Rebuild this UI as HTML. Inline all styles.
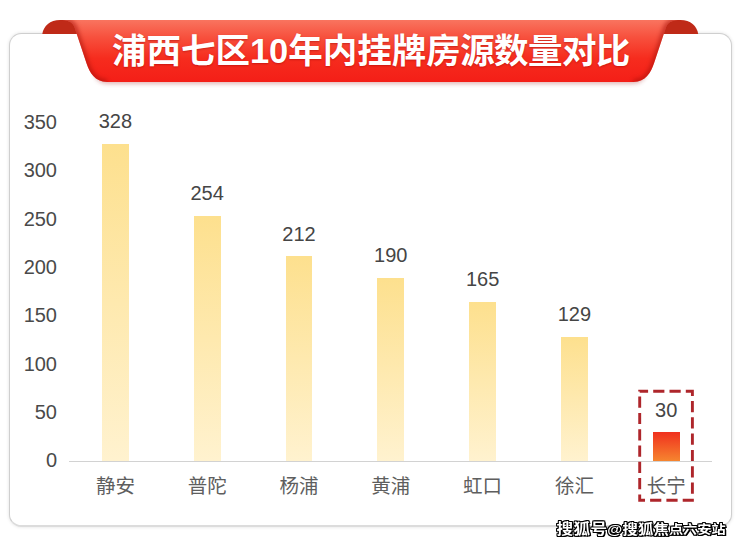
<!DOCTYPE html>
<html lang="zh-CN">
<head>
<meta charset="utf-8">
<title>浦西七区10年内挂牌房源数量对比</title>
<style>
html,body{margin:0;padding:0;background:#fff;}
body{width:740px;height:546px;position:relative;overflow:hidden;font-family:"Liberation Sans","Noto Sans CJK SC",sans-serif;}
.card{position:absolute;left:9.2px;top:32.8px;width:722.5px;height:494px;border:1.7px solid #cfcfcf;border-bottom:2.2px solid #dcdcdc;border-radius:12.5px;box-sizing:border-box;background:#fff;box-shadow:0 0 3.5px rgba(0,0,0,.13);}
svg.banner{position:absolute;left:0;top:0;}
.title{position:absolute;left:0;width:740px;top:24.8px;height:52px;line-height:52px;text-align:center;color:#fff;font-weight:bold;font-size:34.5px;letter-spacing:0;text-shadow:0 1px 2px rgba(150,0,0,.45);white-space:nowrap;text-indent:1.6px;}
.yl{position:absolute;left:0;width:57px;text-align:right;font-size:20px;color:#4a4a4a;height:24px;line-height:24px;}
.axis{position:absolute;left:69px;top:460.8px;width:643px;height:1.1px;background:#d2d2d2;}
.bar{position:absolute;width:26.8px;background:linear-gradient(#fde08e,#fff2cf);}
.bar.hot{background:linear-gradient(#f0301e,#f6852f);}
.vl{position:absolute;width:80px;text-align:center;font-size:20px;color:#454545;height:24px;line-height:24px;}
.xl{position:absolute;width:80px;text-align:center;font-size:19.5px;color:#5e5e5e;height:26px;line-height:26px;top:473px;}
.dash{position:absolute;left:630px;top:384px;}
.wm{position:absolute;left:556.6px;top:513.3px;font-weight:bold;color:#fff;white-space:nowrap;line-height:30px;height:30px;transform:scaleY(.88);transform-origin:0 100%;
text-shadow:-1px -1px 0 #000,1px -1px 0 #000,-1px 1px 0 #000,1px 1px 0 #000,0 -1px 0 #000,0 1px 0 #000,-1px 0 0 #000,1px 0 0 #000,1.5px 1px 0 #000;}
.wm .a{font-size:16.6px;letter-spacing:.3px}.wm .b{font-size:15.3px;letter-spacing:.2px}.wm .c{font-size:14.2px;letter-spacing:0}
</style>
</head>
<body>
<div class="card"></div>
<svg class="banner" width="740" height="100" viewBox="0 0 740 100">
  <defs>
    <linearGradient id="g1" x1="0" y1="0" x2="0" y2="1">
      <stop offset="0" stop-color="#f9745f"/>
      <stop offset="0.28" stop-color="#f7503d"/>
      <stop offset="0.62" stop-color="#f62c1e"/>
      <stop offset="1" stop-color="#f41e17"/>
    </linearGradient>
    <filter id="eb" x="-5%" y="-20%" width="110%" height="140%"><feGaussianBlur stdDeviation="2"/></filter>
    <filter id="sh" x="-5%" y="-20%" width="110%" height="160%">
      <feGaussianBlur stdDeviation="2.2"/>
    </filter>
  </defs>
  <!-- folds -->
  <path d="M 42.3 34 C 43.5 26 50 20 60 20 L 72 20 L 84 34 Z" fill="#bf2a18"/>
  <path d="M 698.2 34 C 697 26 690.5 20 680.5 20 L 668.5 20 L 656.5 34 Z" fill="#bf2a18"/>
  <!-- shadow -->
  <path d="M94 74 C96 80 100 84 109 84 L631.5 84 C640.5 84 644.5 80 646.5 74 Z" fill="#a33" opacity=".35" filter="url(#sh)"/>
  <!-- ribbon -->
  <path d="M 60 20 L 680.50 20 C 673.50 20 668.50 21.5 666.10 27 L 654.10 63 C 651.00 72.5 645.50 82 633.50 82 L 107 82 C 95 82 89.5 72.5 86.4 63 L 74.4 27 C 72 21.5 67 20 60 20 Z" fill="url(#g1)"/>
  <mask id="em" maskUnits="userSpaceOnUse" x="0" y="0" width="740" height="100"><g filter="url(#eb)"><path d="M 60 20 C 67 20 72 21.5 74.4 27 L 86.4 63 C 89.5 72.5 95 82 107 82" fill="none" stroke="#fff" stroke-width="5.5"/><path d="M 680.50 20 C 673.50 20 668.50 21.5 666.10 27 L 654.10 63 C 651.00 72.5 645.50 82 633.50 82" fill="none" stroke="#fff" stroke-width="5.5"/></g></mask>
  <path d="M 60 20 L 680.50 20 C 673.50 20 668.50 21.5 666.10 27 L 654.10 63 C 651.00 72.5 645.50 82 633.50 82 L 107 82 C 95 82 89.5 72.5 86.4 63 L 74.4 27 C 72 21.5 67 20 60 20 Z" fill="#a8120a" opacity=".6" mask="url(#em)"/>
</svg>
<div class="title">浦西七区10年内挂牌<span style="letter-spacing:-0.6px">房源数量对比</span></div>

<div class="yl" style="top:110px">350</div>
<div class="yl" style="top:158px">300</div>
<div class="yl" style="top:207px">250</div>
<div class="yl" style="top:255px">200</div>
<div class="yl" style="top:303px">150</div>
<div class="yl" style="top:352px">100</div>
<div class="yl" style="top:400px">50</div>
<div class="yl" style="top:448px">0</div>

<div class="bar" style="left:102.0px;top:144.1px;height:316.9px"></div>
<div class="bar" style="left:193.8px;top:215.7px;height:245.3px"></div>
<div class="bar" style="left:285.6px;top:256.3px;height:204.7px"></div>
<div class="bar" style="left:377.4px;top:277.6px;height:183.4px"></div>
<div class="bar" style="left:469.2px;top:301.8px;height:159.2px"></div>
<div class="bar" style="left:561.0px;top:336.6px;height:124.4px"></div>
<div class="bar hot" style="left:652.8px;top:432.4px;height:28.6px"></div>
<div class="axis"></div>

<div class="vl" style="left:75.4px;top:109.4px">328</div>
<div class="vl" style="left:167.2px;top:181.0px">254</div>
<div class="vl" style="left:259.0px;top:221.6px">212</div>
<div class="vl" style="left:350.8px;top:242.9px">190</div>
<div class="vl" style="left:442.6px;top:267.1px">165</div>
<div class="vl" style="left:534.4px;top:301.9px">129</div>
<div class="vl" style="left:626.2px;top:397.7px">30</div>

<div class="xl" style="left:75.4px">静安</div>
<div class="xl" style="left:167.2px">普陀</div>
<div class="xl" style="left:259.0px">杨浦</div>
<div class="xl" style="left:350.8px">黄浦</div>
<div class="xl" style="left:442.6px">虹口</div>
<div class="xl" style="left:534.4px">徐汇</div>
<div class="xl" style="left:626.2px">长宁</div>

<svg class="dash" width="72" height="124" viewBox="630 384 72 124"><rect x="639.7" y="391.3" width="52.7" height="109" fill="none" stroke="#ae262b" stroke-width="2.9" stroke-dasharray="11.2 5.1" stroke-dashoffset="2.8"/></svg>

<div class="wm"><span class="a">搜狐号</span><span class="b">@搜狐焦</span><span class="c">点六安站</span></div>
</body>
</html>
